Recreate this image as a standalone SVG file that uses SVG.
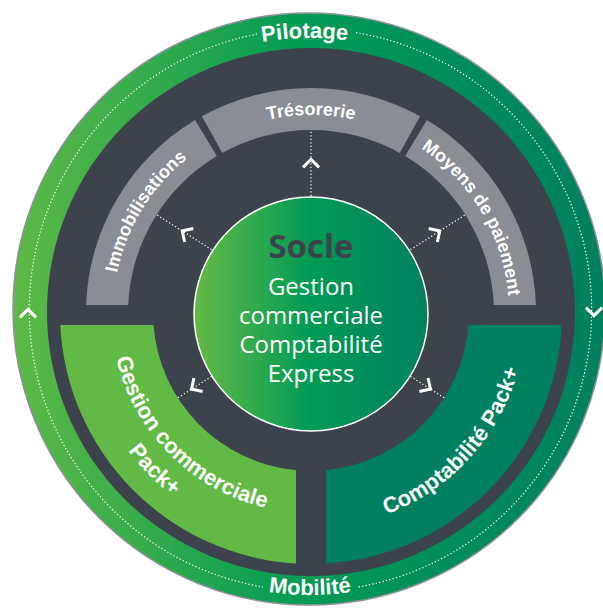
<svg xmlns="http://www.w3.org/2000/svg" xmlns:xlink="http://www.w3.org/1999/xlink" width="603" height="608" viewBox="0 0 603 608">
<style>
.band{fill:#8a8c96}
.blabel{font-family:"Liberation Sans",Arial,sans-serif;font-weight:bold;font-size:18px;fill:#fff}
.boxlabel{font-family:"Liberation Sans",Arial,sans-serif;font-weight:bold;font-size:22px;fill:#fff}
.ringlabel{font-family:"Liberation Sans",Arial,sans-serif;font-weight:bold;font-size:22px;fill:#fff}
.dot{fill:none;stroke:#fff;stroke-width:1.2;stroke-dasharray:1.3 2.2}
.chev{fill:none;stroke:#fff;stroke-width:2.6;stroke-linecap:butt;stroke-linejoin:miter}
.socle{font-family:"Open Sans","DejaVu Sans",sans-serif;fill:#fff;font-size:24px;text-anchor:middle}
</style>
<defs>
<linearGradient id="gRing" gradientUnits="userSpaceOnUse" x1="13" y1="0" x2="605" y2="0">
<stop offset="0" stop-color="#5fb946"/>
<stop offset="0.5" stop-color="#009a55"/>
<stop offset="1" stop-color="#007f61"/>
</linearGradient>
<linearGradient id="gSocle" gradientUnits="userSpaceOnUse" x1="194" y1="0" x2="428" y2="0">
<stop offset="0" stop-color="#64b946"/>
<stop offset="0.5" stop-color="#009b55"/>
<stop offset="1" stop-color="#008062"/>
</linearGradient>
<path id="chevron" class="chev" d="M-7,3.8 L0,-3.2 L7,3.8"/>
<path id="pTop" d="M 38,310 A 272 272 0 0 1 582,310"/>
<path id="pBottom" d="M 25,310 A 285 285 0 0 0 595,310"/>
<path id="pBand" d="M 113,313 A 198 198 0 0 1 509,313"/>
<path id="pGest1" d="M 111,313 A 200 200 0 0 0 311,513"/>
<path id="pGest2" d="M 82,313 A 229 229 0 0 0 311,542"/>
<path id="pComp" d="M 311,528 A 215 215 0 0 0 526,313"/>
</defs>

<g id="ring">
<circle cx="309" cy="309" r="296" fill="url(#gRing)" stroke="#8e9097" stroke-width="1.5"/>
<circle cx="311" cy="312" r="264" fill="#3d434c"/>
<path class="dot" d="M 257,34.1 A 281 281 0 0 0 263,587"/>
<path class="dot" d="M 356,32.7 A 281 281 0 0 1 358,587"/>
<use href="#chevron" transform="translate(28,313) scale(1.15)"/>
<use href="#chevron" transform="translate(594,312) rotate(180) scale(1.15)"/>
</g>

<g id="pilotage">
<text class="ringlabel"><textPath href="#pTop" startOffset="49.4%" text-anchor="middle">Pilotage</textPath></text>
</g>
<g id="mobilite">
<text class="ringlabel"><textPath href="#pBottom" startOffset="50%" text-anchor="middle">Mobilité</textPath></text>
</g>

<g id="immobilisations">
<path class="band" d="M 86.1,305 A 225 225 0 0 1 195.1,120.1 L 216.8,156.1 A 183 183 0 0 0 128.2,305 Z"/>
<text class="blabel"><textPath href="#pBand" startOffset="17.5%" text-anchor="middle">Immobilisations</textPath></text>
</g>
<g id="tresorerie">
<path class="band" d="M 201.9,116.2 A 225 225 0 0 1 420.1,116.2 L 399.7,152.9 A 183 183 0 0 0 222.3,152.9 Z"/>
<text class="blabel"><textPath href="#pBand" startOffset="50%" text-anchor="middle">Trésorerie</textPath></text>
</g>
<g id="moyens-paiement">
<path class="band" d="M 426.9,120.1 A 225 225 0 0 1 535.9,305 L 493.8,305 A 183 183 0 0 0 405.2,156.1 Z"/>
<text class="blabel"><textPath href="#pBand" startOffset="83%" text-anchor="middle">Moyens de paiement</textPath></text>
</g>

<g id="gestion-commerciale-pack">
<path fill="#62b946" d="M 60.3,325 L 153.5,325 A 158 158 0 0 0 296,470.3 L 296,563.5 A 251 251 0 0 1 60.3,325 Z"/>
<text class="boxlabel"><textPath href="#pGest1" startOffset="50%" text-anchor="middle">Gestion commerciale</textPath></text>
<text class="boxlabel"><textPath href="#pGest2" startOffset="50%" text-anchor="middle">Pack+</textPath></text>
</g>
<g id="comptabilite-pack">
<path fill="#007f61" d="M 561.7,325 L 468.5,325 A 158 158 0 0 1 326,470.3 L 326,563.5 A 251 251 0 0 0 561.7,325 Z"/>
<text class="boxlabel"><textPath href="#pComp" startOffset="53%" text-anchor="middle">Comptabilité Pack+</textPath></text>
</g>

<g id="connectors">
<line class="dot" x1="311" y1="196" x2="311" y2="130"/>
<line class="dot" x1="211.5" y1="249.6" x2="156.7" y2="214.7"/>
<line class="dot" x1="410.5" y1="249.6" x2="465.3" y2="214.7"/>
<line class="dot" x1="211.5" y1="376.4" x2="177.7" y2="397.9"/>
<line class="dot" x1="410.5" y1="376.4" x2="444.3" y2="397.9"/>
<use href="#chevron" transform="translate(311,163) scale(1.15)"/>
<use href="#chevron" transform="translate(185.3,232.9) rotate(-57.5) scale(1.15)"/>
<use href="#chevron" transform="translate(436.7,232.9) rotate(57.5) scale(1.15)"/>
<use href="#chevron" transform="translate(194.6,387.1) rotate(-122.5) scale(1.15)"/>
<use href="#chevron" transform="translate(427.4,387.1) rotate(122.5) scale(1.15)"/>
</g>

<g id="socle">
<circle cx="311" cy="314" r="117" fill="url(#gSocle)" stroke="#fff" stroke-width="1.5"/>
<text x="311" y="258" style="font-family:'Open Sans','DejaVu Sans',sans-serif;font-weight:bold;font-size:33px;fill:#3d434c;text-anchor:middle">Socle</text>
<text class="socle" x="311" y="295">Gestion</text>
<text class="socle" x="311" y="324">commerciale</text>
<text class="socle" x="311" y="353">Comptabilité</text>
<text class="socle" x="311" y="382">Express</text>
</g>
</svg>
